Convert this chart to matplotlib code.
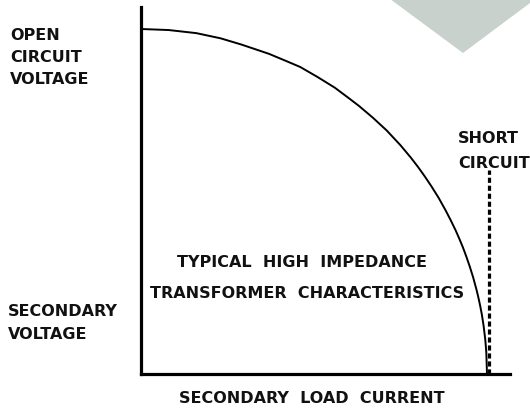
import matplotlib as mpl
mpl.use('Agg')
import matplotlib.pyplot as plt
from matplotlib.patches import Polygon

# load current (1.0 = short circuit) vs secondary voltage (1.0 = open circuit)
current = [0.0, 0.08, 0.16, 0.23, 0.29, 0.37, 0.42, 0.46, 0.51, 0.56, 0.60, 0.63, 0.67,
           0.71, 0.75, 0.78, 0.80, 0.82, 0.84, 0.86, 0.88, 0.895, 0.91, 0.92, 0.93,
           0.94, 0.95, 0.96, 0.97, 0.975, 0.98, 0.985, 0.99, 0.995, 0.998, 1.0]
voltage = [1.0, 0.997, 0.988, 0.973, 0.955, 0.928, 0.907, 0.89, 0.861, 0.83, 0.80, 0.777, 0.743,
           0.706, 0.663, 0.627, 0.601, 0.573, 0.543, 0.511, 0.475, 0.446, 0.415, 0.392, 0.368,
           0.341, 0.312, 0.28, 0.243, 0.222, 0.199, 0.173, 0.141, 0.1, 0.063, 0.0]
short_circuit = 1.0
short_top = 0.59

W, H = 530, 410
fig = plt.figure(figsize=(W / 100, H / 100), dpi=100)
fig.patch.set_facecolor('white')

def fx(px):
    return px / W

def fy(py):
    return 1 - py / H

# pale grey tab in the corner
fig.patches.append(Polygon([(fx(390), fy(0)), (fx(463), fy(54)), (fx(530), fy(4)), (fx(530), fy(0))],
                           closed=True, transform=fig.transFigure, facecolor='#c9d1cd',
                           edgecolor='none', zorder=0))

ax = fig.add_axes([fx(141), fy(375), fx(510) - fx(141), fy(8) - fy(375)])
ax.set_xlim(0, 369 / 346)
ax.set_ylim(0, 367 / 345)
ax.set_facecolor('none')
for s in ['top', 'right']:
    ax.spines[s].set_visible(False)
for s in ['left', 'bottom']:
    ax.spines[s].set_linewidth(2.3)
    ax.spines[s].set_color('black')
ax.set_xticks([])
ax.set_yticks([])

ax.plot(current, voltage, color='black', lw=1.4, solid_joinstyle='round', clip_on=False)
ax.plot([short_circuit + 0.005, short_circuit + 0.005], [0, short_top], color='black', lw=2.3,
        linestyle=(0, (1.6, 0.9)), clip_on=False)

font = dict(family='DejaVu Sans', weight='bold', fontsize=11.5, color='#111111', va='baseline')

# (text, x px, baseline px, ha)
labels = [
    ('OPEN', 10, 40, 'left'),
    ('CIRCUIT', 10, 62, 'left'),
    ('VOLTAGE', 10, 84, 'left'),
    ('SECONDARY', 8, 316, 'left'),
    ('VOLTAGE', 8, 339, 'left'),
    ('TYPICAL  HIGH  IMPEDANCE', 302, 267, 'center'),
    ('TRANSFORMER  CHARACTERISTICS', 307, 298, 'center'),
    ('SECONDARY  LOAD  CURRENT', 312, 403, 'center'),
    ('SHORT', 458, 143, 'left'),
    ('CIRCUIT', 458, 168, 'left'),
]
for txt, x, y, ha in labels:
    fig.text(fx(x), fy(y), txt, ha=ha, **font)

fig.savefig('out.png', dpi=100)
